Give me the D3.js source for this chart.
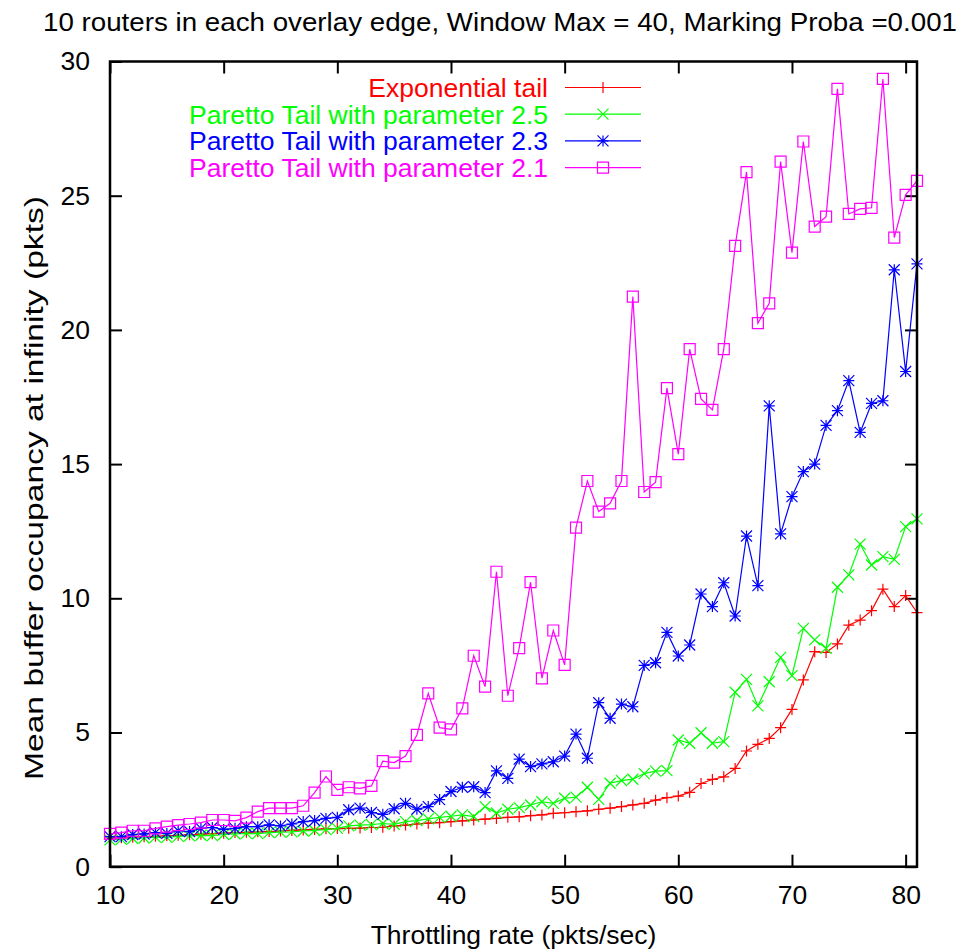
<!DOCTYPE html>
<html>
<head>
<meta charset="utf-8">
<script src="https://cdn.jsdelivr.net/npm/d3@7"></script>
<style>
  html, body { margin: 0; padding: 0; background: #fff; }
  svg { display: block; }
  text { font-family: "Liberation Sans", Arial, Helvetica, sans-serif; }
</style>
</head>
<body>
<svg id="chart" width="963" height="951"></svg>
<script>
// Throttling rates (pkts/sec)
const rates = d3.range(10, 82);

// Mean buffer occupancy at infinity (pkts) for each tail model
const exponentialTail = [
  1.07, 1.08, 1.10, 1.12, 1.13, 1.15, 1.17, 1.19, 1.21, 1.23,
  1.25, 1.27, 1.28, 1.30, 1.31, 1.33, 1.35, 1.37, 1.39, 1.41,
  1.42, 1.43, 1.44, 1.46, 1.47, 1.52, 1.55, 1.59, 1.62, 1.64,
  1.68, 1.71, 1.74, 1.77, 1.80, 1.84, 1.86, 1.90, 1.93, 1.99,
  2.01, 2.05, 2.08, 2.14, 2.18, 2.24, 2.30, 2.36, 2.48, 2.57,
  2.63, 2.77, 3.10, 3.25, 3.35, 3.66, 4.31, 4.56, 4.78, 5.18,
  5.86, 6.96, 8.01, 7.98, 8.30, 9.00, 9.19, 9.54, 10.34, 9.69,
  10.10, 9.47
];
const pareto25 = [
  1.00, 1.02, 1.05, 1.07, 1.10, 1.09, 1.13, 1.15, 1.17, 1.16,
  1.20, 1.22, 1.24, 1.23, 1.27, 1.29, 1.30, 1.33, 1.35, 1.38,
  1.43, 1.52, 1.55, 1.57, 1.61, 1.58, 1.68, 1.72, 1.78, 1.84,
  1.88, 1.93, 1.87, 2.24, 2.00, 2.14, 2.20, 2.30, 2.42, 2.36,
  2.55, 2.59, 2.96, 2.51, 3.11, 3.21, 3.26, 3.47, 3.56, 3.58,
  4.72, 4.60, 4.99, 4.60, 4.66, 6.50, 6.98, 5.99, 6.89, 7.80,
  7.12, 8.88, 8.45, 8.14, 10.41, 10.87, 12.02, 11.24, 11.55, 11.45,
  12.67, 12.96
];
const pareto23 = [
  1.12, 1.12, 1.20, 1.22, 1.27, 1.24, 1.34, 1.31, 1.43, 1.46,
  1.39, 1.43, 1.49, 1.49, 1.56, 1.52, 1.59, 1.68, 1.72, 1.80,
  1.84, 2.12, 2.18, 2.02, 1.95, 2.16, 2.36, 2.14, 2.24, 2.50,
  2.80, 2.96, 2.98, 2.76, 3.57, 3.29, 4.01, 3.73, 3.83, 3.91,
  4.12, 4.94, 4.04, 6.11, 5.53, 6.06, 5.96, 7.50, 7.60, 8.73,
  7.85, 8.26, 10.16, 9.69, 10.58, 9.34, 12.32, 10.47, 17.17, 12.40,
  13.79, 14.72, 15.00, 16.44, 16.99, 18.11, 16.18, 17.26, 17.36, 22.24,
  18.45, 22.46
];
const pareto21 = [
  1.22, 1.27, 1.34, 1.34, 1.43, 1.49, 1.55, 1.59, 1.64, 1.74,
  1.74, 1.71, 1.83, 2.05, 2.18, 2.18, 2.18, 2.27, 2.76, 3.36,
  2.86, 2.96, 2.92, 3.01, 3.93, 3.88, 4.12, 4.91, 6.46, 5.18,
  5.12, 5.90, 7.86, 6.71, 10.99, 6.37, 8.14, 10.60, 7.02, 8.80,
  7.52, 12.63, 14.37, 13.23, 13.54, 14.37, 21.24, 13.96, 14.33, 17.83,
  15.37, 19.28, 17.43, 17.02, 19.28, 23.13, 25.88, 20.25, 20.99, 26.27,
  22.88, 27.02, 23.85, 24.22, 28.98, 24.32, 24.51, 24.55, 29.35, 23.44,
  25.03, 25.55
];

const seriesNames = [
  "Exponential tail",
  "Paretto Tail with parameter 2.5",
  "Paretto Tail with parameter 2.3",
  "Paretto Tail with parameter 2.1"
];
const seriesColors = ["#ff0000", "#00ff00", "#0000ff", "#ff00ff"];
const seriesMarkers = ["plus", "cross", "star", "square"];
const seriesValues = [exponentialTail, pareto25, pareto23, pareto21];

const xTicks = [10, 20, 30, 40, 50, 60, 70, 80];
const yTicks = [0, 5, 10, 15, 20, 25, 30];

const titleText = "10 routers in each overlay edge, Window Max = 40, Marking Proba =0.001";
const xLabel = "Throttling rate (pkts/sec)";
const yLabel = "Mean buffer occupancy at infinity (pkts)";

// ---- layout ----
const plot = { left: 110, right: 917, top: 61.5, bottom: 866.7 };
const fontSize = 26.5;

const svg = d3.select("#chart");
const x = d3.scaleLinear().domain([10, 81]).range([plot.left, plot.right]);
const y = d3.scaleLinear().domain([0, 30]).range([plot.bottom, plot.top]);

// marker glyphs, centred on (0,0)
function markerPath(kind) {
  const p = d3.path();
  const h = 5.5;
  if (kind === "plus" || kind === "star") {
    p.moveTo(-h, 0); p.lineTo(h, 0);
    p.moveTo(0, -h); p.lineTo(0, h);
  }
  if (kind === "cross" || kind === "star") {
    p.moveTo(-h, -h); p.lineTo(h, h);
    p.moveTo(-h, h); p.lineTo(h, -h);
  }
  if (kind === "square") {
    p.rect(-h, -h, 2 * h, 2 * h);
  }
  return p.toString();
}

// ---- axes: inward ticks on all four sides ----
const tickLen = 12;
const axisG = svg.append("g");

const bottomAxis = d3.axisBottom(x).tickValues(xTicks).tickSizeInner(-tickLen).tickSizeOuter(0).tickPadding(18);
const topAxis = d3.axisTop(x).tickValues(xTicks).tickSizeInner(-tickLen).tickSizeOuter(0).tickFormat("");
const leftAxis = d3.axisLeft(y).tickValues(yTicks).tickSizeInner(-tickLen).tickSizeOuter(0).tickPadding(20);
const rightAxis = d3.axisRight(y).tickValues(yTicks).tickSizeInner(-tickLen).tickSizeOuter(0).tickFormat("");

function styleAxis(g) {
  g.select(".domain").remove();
  g.selectAll(".tick line").attr("stroke", "#000").attr("stroke-width", 2);
  g.selectAll(".tick text")
    .attr("fill", "#000")
    .style("font-size", fontSize + "px")
    .style("font-family", '"Liberation Sans", Arial, sans-serif');
}

axisG.append("g").attr("transform", `translate(0,${plot.bottom})`).call(bottomAxis).call(styleAxis)
  .selectAll(".tick text").attr("dy", "0.71em");
axisG.append("g").attr("transform", `translate(0,${plot.top})`).call(topAxis).call(styleAxis);
axisG.append("g").attr("transform", `translate(${plot.left},0)`).call(leftAxis).call(styleAxis);
axisG.append("g").attr("transform", `translate(${plot.right},0)`).call(rightAxis).call(styleAxis);

// ---- series ----
const line = d3.line().x((d, i) => x(rates[i])).y(d => y(d));
const seriesG = svg.append("g");

// ---- legend geometry ----
const legend = { textRight: 548, lineStart: 565, lineEnd: 641, firstRow: 87.5, rowStep: 26.7 };

seriesValues.forEach((vals, k) => {
  const color = seriesColors[k];
  const g = seriesG.append("g");

  // legend entry
  const ly = legend.firstRow + k * legend.rowStep;
  g.append("text")
    .attr("x", legend.textRight)
    .attr("y", ly)
    .attr("dy", "0.36em")
    .attr("text-anchor", "end")
    .attr("fill", color)
    .style("font-size", fontSize + "px")
    .text(seriesNames[k]);
  g.append("line")
    .attr("x1", legend.lineStart).attr("x2", legend.lineEnd)
    .attr("y1", ly).attr("y2", ly)
    .attr("stroke", color).attr("stroke-width", 1.2);
  g.append("path")
    .attr("d", markerPath(seriesMarkers[k]))
    .attr("transform", `translate(${(legend.lineStart + legend.lineEnd) / 2},${ly})`)
    .attr("fill", "none").attr("stroke", color).attr("stroke-width", 1.2);

  // data line
  g.append("path")
    .datum(vals)
    .attr("d", line)
    .attr("fill", "none")
    .attr("stroke", color)
    .attr("stroke-width", 1.2);

  // point markers
  g.selectAll("path.mk")
    .data(vals)
    .join("path")
    .attr("class", "mk")
    .attr("d", markerPath(seriesMarkers[k]))
    .attr("transform", (d, i) => `translate(${x(rates[i])},${y(d)})`)
    .attr("fill", "none")
    .attr("stroke", color)
    .attr("stroke-width", 1.2);
});

// ---- frame ----
svg.append("rect")
  .attr("x", plot.left).attr("y", plot.top)
  .attr("width", plot.right - plot.left).attr("height", plot.bottom - plot.top)
  .attr("fill", "none").attr("stroke", "#000").attr("stroke-width", 2.5);

// ---- title and axis labels ----
svg.append("text")
  .attr("x", 500)
  .attr("y", 31)
  .attr("text-anchor", "middle")
  .attr("textLength", 914)
  .attr("lengthAdjust", "spacingAndGlyphs")
  .style("font-size", fontSize + "px")
  .text(titleText);

svg.append("text")
  .attr("x", 513.5)
  .attr("y", 944)
  .attr("text-anchor", "middle")
  .style("font-size", fontSize + "px")
  .text(xLabel);

// the rotated label runs longer than the horizontal text at the same height
svg.append("text")
  .attr("transform", `translate(43,488) rotate(-90)`)
  .attr("text-anchor", "middle")
  .attr("textLength", 584)
  .attr("lengthAdjust", "spacingAndGlyphs")
  .style("font-size", fontSize + "px")
  .text(yLabel);
</script>
</body>
</html>
